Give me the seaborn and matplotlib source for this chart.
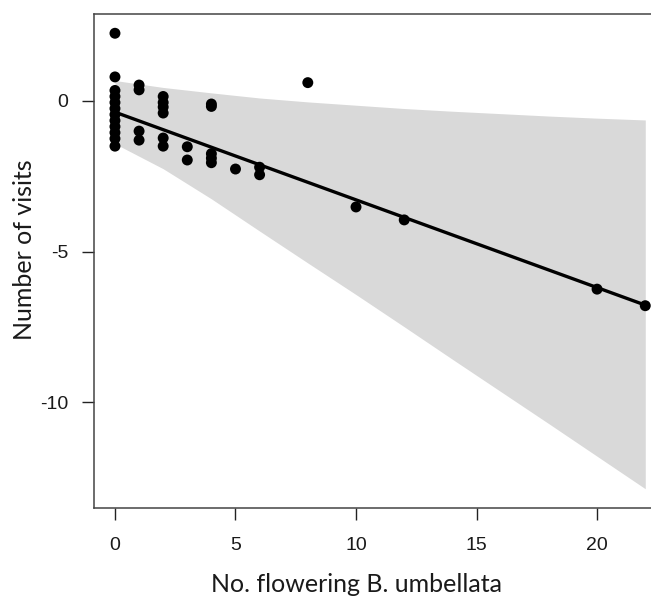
import matplotlib
matplotlib.use("Agg")
import matplotlib.pyplot as plt
import numpy as np
import pandas as pd
import seaborn as sns

# observed points (x = no. flowering plants, y = number of visits)
pts_x = [0, 0, 0, 0, 0, 0, 0, 0, 0, 0, 0, 0,
         1, 1, 1, 1,
         2, 2, 2, 2, 2, 2,
         3, 3,
         4, 4, 4, 4, 4,
         5,
         6, 6,
         8, 10, 12, 20, 22]
pts_y = [2.25, 0.8, 0.35, 0.15, -0.05, -0.25, -0.45, -0.65, -0.85, -1.05, -1.25, -1.5,
         0.53, 0.37, -1.0, -1.3,
         0.15, -0.05, -0.2, -0.4, -1.23, -1.5,
         -1.52, -1.96,
         -0.1, -0.18, -1.75, -1.9, -2.05,
         -2.26,
         -2.2, -2.45,
         0.61, -3.52, -3.95, -6.25, -6.8]

# fitted line
fit_x = [0, 22]
fit_y = [-0.37, -6.78]

# confidence band
band_x = [0, 2, 4, 6, 8, 10, 12, 14, 16, 18, 20, 22]
band_hi = [0.68, 0.45, 0.27, 0.1, -0.03, -0.14, -0.25, -0.34, -0.42, -0.5, -0.57, -0.63]
band_lo = [-1.42, -2.25, -3.25, -4.32, -5.38, -6.43, -7.5, -8.58, -9.65, -10.72, -11.8, -12.88]

x_ticks = [0, 5, 10, 15, 20]
y_ticks = [0, -5, -10]

sns.set_style("white")
plt.rcParams["font.family"] = ["Liberation Sans", "DejaVu Sans"]

df = pd.DataFrame({"x": pts_x, "y": pts_y})
fit = pd.DataFrame({"x": fit_x, "y": fit_y})

fig = plt.figure(figsize=(6.51, 6.01), dpi=100)
# plot box runs past the right edge of the picture, as in the original crop
ax = fig.add_axes([94 / 651, 93 / 601, 572 / 651, 494 / 601])

ax.fill_between(band_x, band_lo, band_hi, color="#d9d9d9", linewidth=0, zorder=1)
sns.lineplot(data=fit, x="x", y="y", color="black", linewidth=2.4, ax=ax, zorder=2)
sns.scatterplot(data=df, x="x", y="y", color="black", s=62, edgecolor="none",
                ax=ax, zorder=3)

ax.set_xlim(-0.87, 22.86)
ax.set_ylim(-13.52, 2.89)
ax.set_xticks(x_ticks)
ax.set_yticks(y_ticks)
ax.set_xticklabels([str(v) for v in x_ticks])
ax.set_yticklabels([str(v) for v in y_ticks])
ax.tick_params(axis="both", direction="out", length=8.6, width=1, color="#222222",
               labelsize=14, labelcolor="#1a1a1a", bottom=True, left=True)
ax.tick_params(axis="x", pad=12)
ax.tick_params(axis="y", pad=10)

for side in ["left", "bottom", "top", "right"]:
    ax.spines[side].set_color("#444444")
    ax.spines[side].set_linewidth(1.1)

ax.set_xlabel("No. flowering B. umbellata", fontsize=18, family=["Lato", "DejaVu Sans"],
              color="#1a1a1a")
ax.set_ylabel("Number of visits", fontsize=18, family=["Lato", "DejaVu Sans"],
              color="#1a1a1a")
ax.xaxis.label.set_va("center")
ax.yaxis.label.set_va("center")
ax.yaxis.label.set_ha("center")
ax.xaxis.set_label_coords((356.5 - 94) / 572, (508 - 584) / 494)
ax.yaxis.set_label_coords((25 - 94) / 572, (508 - 250) / 494)

fig.savefig("out.png", dpi=100)
